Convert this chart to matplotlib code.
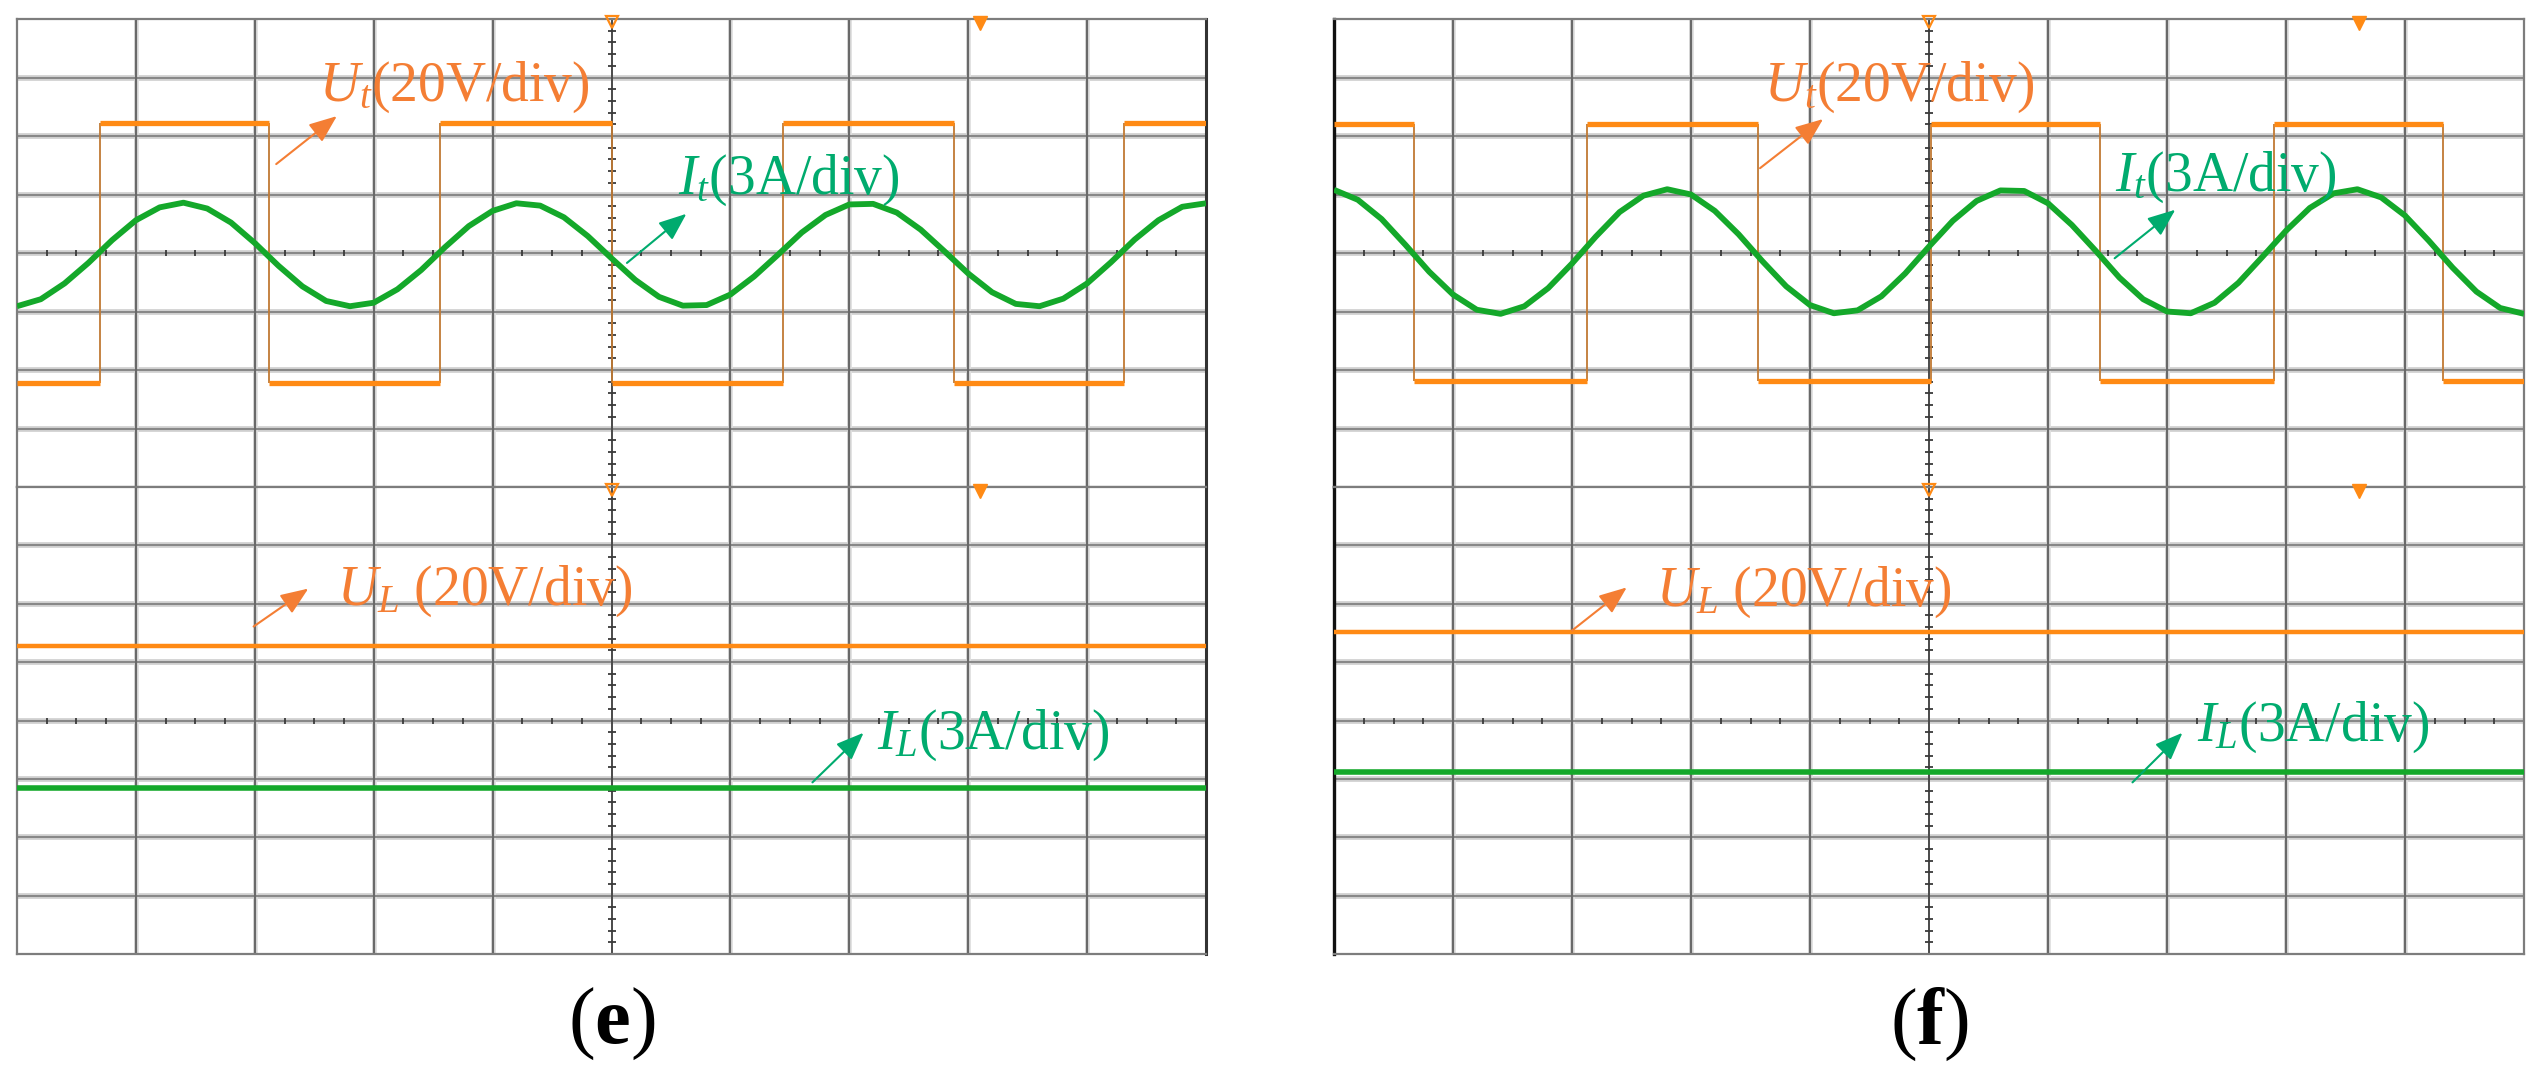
import numpy as np
import matplotlib.pyplot as plt

plt.rcParams['font.family'] = 'Liberation Serif'
plt.rcParams['mathtext.fontset'] = 'custom'
plt.rcParams['mathtext.rm'] = 'Liberation Serif'
plt.rcParams['mathtext.it'] = 'Liberation Serif:italic'
plt.rcParams['mathtext.bf'] = 'Liberation Serif:bold'

SAMPLE_STEP = 0.2  # div between the current samples below

# (e) transformer voltage: edge times and the level held after each edge
ut_e_edges = [0.0, 0.70, 2.12, 3.56, 5.00, 6.44, 7.88, 9.31, 10.0]
ut_e_levels = [-2.23, 2.22, -2.23, 2.22, -2.23, 2.22, -2.23, 2.22]
# (e) transformer current, one sample every 0.2 div
it_e = [-0.91, -0.79, -0.52, -0.17, 0.22, 0.56, 0.78, 0.86, 0.76, 0.52,
        0.17, -0.22, -0.57, -0.82, -0.91, -0.85, -0.62, -0.29, 0.10, 0.46,
        0.72, 0.85, 0.81, 0.61, 0.29, -0.09, -0.46, -0.75, -0.90, -0.89,
        -0.71, -0.40, -0.03, 0.35, 0.65, 0.83, 0.84, 0.69, 0.40, 0.03,
        -0.35, -0.67, -0.87, -0.91, -0.78, -0.52, -0.16, 0.23, 0.56, 0.79,
        0.85]
ul_e = 1.28
il_e = -1.16

# (f)
ut_f_edges = [0.0, 0.67, 2.13, 3.56, 5.02, 6.44, 7.90, 9.32, 10.0]
ut_f_levels = [2.20, -2.19, 2.20, -2.19, 2.20, -2.19, 2.20, -2.19]
it_f = [1.08, 0.91, 0.58, 0.14, -0.32, -0.71, -0.97, -1.04, -0.91, -0.60,
        -0.18, 0.28, 0.70, 0.98, 1.09, 1.00, 0.72, 0.32, -0.14, -0.57,
        -0.89, -1.03, -0.98, -0.74, -0.35, 0.11, 0.55, 0.89, 1.07, 1.06,
        0.85, 0.48, 0.04, -0.42, -0.79, -1.00, -1.03, -0.85, -0.51, -0.07,
        0.38, 0.77, 1.02, 1.09, 0.95, 0.64, 0.21, -0.25, -0.66, -0.94,
        -1.04]
ul_f = 1.51
il_f = -0.89

# trigger marker position on the top edge of each screen
trig_e = 8.10
trig_f = 8.61

ORANGE = '#ff8a14'
EDGE = '#c07a34'
GREEN = '#14a82a'
TXT_OR = '#f47e34'
TXT_GR = '#00ab6e'

fig = plt.figure(figsize=(25.4, 10.77), dpi=100)
W, H = 2540, 1077


def make_ax(x0, x1, y0, y1):
    ax = fig.add_axes([x0 / W, 1 - y1 / H, (x1 - x0) / W, (y1 - y0) / H])
    ax.set_xlim(0, 10)
    ax.set_ylim(-4, 4)
    ax.set_xticks([])
    ax.set_yticks([])
    for s in ax.spines.values():
        s.set_color('#7d7d7d')
        s.set_linewidth(1.6)
    return ax


def draw_screen(ax, trig):
    for y in range(-3, 4):
        ax.axhline(y, color='#d3d3d3', lw=4.2, zorder=1)
        ax.axhline(y, color='#888888', lw=1.5, zorder=1.1)
    for x in range(1, 10):
        if x == 5:
            continue
        ax.axvline(x, color='#e0e0e0', lw=3.5, zorder=1)
        ax.axvline(x, color='#696969', lw=1.6, zorder=1.1)
    ax.axvline(5, color='#4a4a4a', lw=1.4, zorder=1.2)
    # minor ticks along the centre cross
    hx = [k * 0.25 for k in range(1, 40) if k % 4]
    ax.plot(hx, [0] * len(hx), ls='none', marker='|', ms=5, mew=1.3,
            color='#3a3a3a', zorder=1.3)
    vy = [k * 0.2 - 4 for k in range(1, 40) if k % 5]
    ax.plot([5] * len(vy), vy, ls='none', marker='_', ms=6, mew=1.3,
            color='#3a3a3a', zorder=1.3)
    ax.plot([5], [3.95], ls='none', marker='v', ms=8, mfc='none', mec=ORANGE,
            mew=1.6, clip_on=False, zorder=6)
    ax.plot([trig], [3.93], ls='none', marker='v', ms=10, color=ORANGE,
            clip_on=False, zorder=6)


def draw_square(ax, edges, levels):
    ax.vlines(edges[1:-1], levels[:-1], levels[1:], color=EDGE, lw=1.3,
              zorder=3)
    ax.hlines(levels, edges[:-1], edges[1:], color=ORANGE, lw=3.8, zorder=3.5)


def label(ax, x, y, s, col, tail, head):
    ax.text(x, y, s, color=col, fontsize=40, ha='left', va='baseline',
            zorder=7)
    ax.annotate('', xy=head, xytext=tail, zorder=7,
                arrowprops=dict(arrowstyle='-|>,head_length=0.5,head_width=0.2',
                                color=col, lw=1.5, mutation_scale=34,
                                shrinkA=0, shrinkB=0))


panels = [
    (17, 1206, trig_e, ut_e_edges, ut_e_levels, it_e, ul_e, il_e,
     [(2.54, 2.60, (2.18, 1.52), (2.69, 2.34)),
      (5.56, 1.01, (5.13, -0.17), (5.63, 0.67)),
      (2.69, 1.99, (1.99, 1.61), (2.45, 2.26)),
      (7.23, -0.48, (6.69, -1.06), (7.12, -0.21))], 'e'),
    (1334, 2524, trig_f, ut_f_edges, ut_f_levels, it_f, ul_f, il_f,
     [(3.61, 2.60, (3.58, 1.45), (4.11, 2.29)),
      (6.56, 1.06, (6.56, -0.09), (7.07, 0.74)),
      (2.71, 1.97, (2.00, 1.54), (2.46, 2.28)),
      (7.25, -0.34, (6.71, -1.06), (7.13, -0.21))], 'f'),
]

texts = [r'$U_t$(20V/div)', r'$I_t$(3A/div)', r'$U_L$ (20V/div)',
         r'$I_L$(3A/div)']
cols = [TXT_OR, TXT_GR, TXT_OR, TXT_GR]

for x0, x1, trig, edges, levels, it, ul, il, labs, tag in panels:
    top = make_ax(x0, x1, 19, 487)
    bot = make_ax(x0, x1, 487, 954)
    draw_screen(top, trig)
    draw_screen(bot, trig)
    if x0 > 1000:
        top.spines['left'].set_color('#111111')
        bot.spines['left'].set_color('#111111')
        top.spines['left'].set_linewidth(2.4)
        bot.spines['left'].set_linewidth(2.4)
    else:
        top.spines['right'].set_color('#333333')
        bot.spines['right'].set_color('#333333')
        top.spines['right'].set_linewidth(2.2)
        bot.spines['right'].set_linewidth(2.2)

    draw_square(top, edges, levels)
    t = np.arange(len(it)) * SAMPLE_STEP
    top.plot(t, it, color=GREEN, lw=4.2, zorder=4, solid_capstyle='butt',
             solid_joinstyle='round')

    bot.axhline(ul, color=ORANGE, lw=3.2, zorder=3)
    bot.axhline(il, color=GREEN, lw=4.0, zorder=4)

    for i, ((tx, ty, tail, head), s, c) in enumerate(zip(labs, texts, cols)):
        ax = top if i < 2 else bot
        label(ax, tx, ty, s, c, tail, head)

    fig.text((x0 + x1) / 2 / W, 1 - 1024 / H, r'($\mathbf{%s}$)' % tag,
             fontsize=58, ha='center', va='center', color='black')

fig.savefig('out.png', dpi=100, facecolor='white')
